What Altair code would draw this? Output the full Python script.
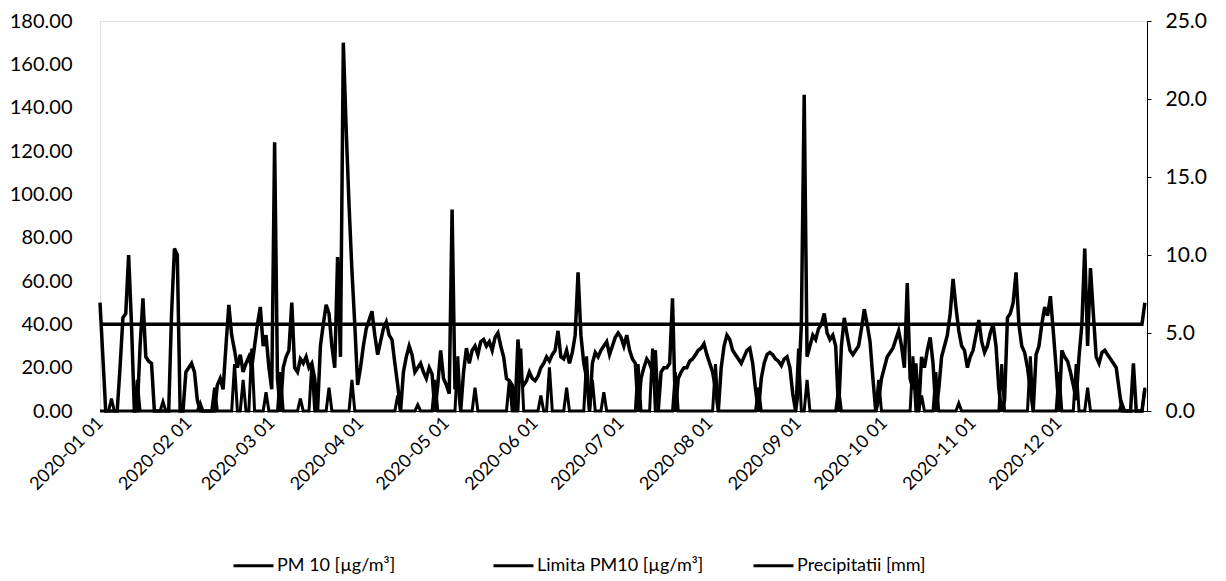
import altair as alt
import pandas as pd

# ---- data (daily values, 2020) ----
series_names = ["PM 10 [µg/m³]", "Limita PM10 [µg/m³]", "Precipitatii [mm]"]

pm10_jan = [50, 25, 0, 0, 0, 0, 0, 20, 43, 45, 72, 40, 0, 0, 30, 52, 25, 23, 22, 0, 0, 0, 0, 0, 0, 45, 75, 72, 0, 0, 18]
pm10_feb = [20, 22, 18, 5, 0, 0, 0, 0, 0, 0, 12, 15, 10, 30, 49, 35, 28, 20, 26, 18, 22, 25, 20, 30, 40, 48, 30, 35, 20]
pm10_mar = [10, 124, 15, 0, 20, 25, 28, 50, 20, 18, 24, 22, 25, 20, 22, 15, 0, 30, 40, 49, 45, 30, 20, 71, 25, 170, 130, 95, 65, 40, 12]
pm10_apr = [20, 30, 38, 42, 46, 35, 26, 32, 38, 41, 35, 33, 22, 12, 0, 18, 25, 30, 26, 18, 20, 22, 18, 15, 20, 17, 0, 12, 28, 15]
pm10_may = [12, 8, 93, 10, 14, 0, 18, 29, 22, 28, 30, 26, 32, 33, 30, 32, 28, 34, 36, 30, 25, 15, 14, 12, 0, 33, 15, 12, 14, 18, 15]
pm10_jun = [14, 16, 20, 22, 25, 23, 26, 28, 37, 25, 24, 28, 22, 27, 35, 64, 35, 22, 15, 0, 22, 27, 25, 28, 30, 32, 26, 30, 34, 36]
pm10_jul = [34, 30, 35, 28, 24, 22, 0, 15, 20, 24, 22, 18, 28, 0, 18, 20, 20, 22, 52, 0, 15, 18, 20, 20, 23, 24, 26, 28, 29, 31, 26]
pm10_aug = [22, 18, 10, 0, 20, 30, 35, 33, 28, 26, 24, 22, 25, 28, 29, 22, 10, 0, 15, 22, 26, 27, 26, 24, 23, 21, 24, 25, 20, 8, 0]
pm10_sep = [10, 40, 146, 25, 30, 35, 33, 38, 40, 45, 36, 33, 35, 30, 0, 30, 43, 35, 28, 26, 28, 30, 38, 47, 40, 32, 15, 0, 5, 15]
pm10_oct = [20, 25, 27, 29, 33, 37, 30, 20, 59, 15, 10, 22, 0, 25, 20, 28, 34, 22, 0, 10, 25, 30, 35, 45, 61, 48, 37, 30, 28, 20, 25]
pm10_nov = [28, 35, 42, 32, 27, 30, 36, 40, 30, 10, 0, 5, 43, 45, 50, 64, 40, 30, 27, 20, 10, 0, 26, 30, 40, 48, 44, 53, 37, 20]
pm10_dec = [0, 28, 25, 23, 18, 12, 5, 25, 40, 75, 30, 66, 45, 25, 22, 27, 28, 26, 24, 22, 20, 10, 0, 0, 0, 0, 22, 0, 0, 0, 10]

limit_pm10 = 40.0
limit_last_day = 50.0

# rainy days (day index from 2020-01-01) and amount in mm; other days 0
precip_day = [4, 13, 22, 35, 40, 47, 50, 53, 58, 63, 70, 74, 80, 88, 104, 111, 117, 125, 131, 143, 147,
              154, 157, 163, 170, 172, 176, 188, 193, 201, 215, 230, 244, 247, 258, 272, 284, 287, 292,
              300, 315, 325, 335, 341, 345, 357, 365]
precip_mm = [0.8, 2.0, 0.6, 0.5, 1.5, 3.0, 2.0, 4.0, 1.2, 2.5, 0.8, 3.0, 1.5, 2.0, 1.0, 0.4, 2.0, 3.5, 1.5, 2.0, 4.0,
             1.0, 2.8, 1.5, 3.5, 2.0, 1.2, 3.0, 4.0, 2.5, 3.0, 1.5, 4.0, 2.0, 1.5, 2.0, 3.5, 1.0, 2.5,
             0.5, 3.0, 3.5, 2.5, 3.0, 1.5, 0.5, 1.5]

left_ticks = [0, 20, 40, 60, 80, 100, 120, 140, 160, 180]
right_ticks = [0, 5, 10, 15, 20, 25]

# ---- tables ----
pm10 = (pm10_jan + pm10_feb + pm10_mar + pm10_apr + pm10_may + pm10_jun +
        pm10_jul + pm10_aug + pm10_sep + pm10_oct + pm10_nov + pm10_dec)
dates = pd.date_range("2020-01-01", "2020-12-31", freq="D")
n = len(dates)
date_str = [d.strftime("%Y-%m-%d") for d in dates]

limit = [limit_pm10] * n
limit[-1] = limit_last_day

precip = [0.0] * n
for d, v in zip(precip_day, precip_mm):
    precip[d] = v

left_df = pd.DataFrame({
    "date": date_str * 2,
    "value": pm10 + limit,
    "series": [series_names[0]] * n + [series_names[1]] * n,
})
right_df = pd.DataFrame({"date": date_str, "value": precip, "series": [series_names[2]] * n})

FONT = "Lato"

x_enc = alt.X(
    "date:T",
    title=None,
    scale=alt.Scale(
        type="utc",
        domain=[alt.DateTime(year=2020, month=1, date=1, utc=True),
                alt.DateTime(year=2020, month=12, date=31, hours=18, utc=True)],
    ),
    axis=alt.Axis(
        values=[alt.DateTime(year=2020, month=m, date=1, utc=True) for m in range(1, 13)],
        format="%Y-%m %d",
        labelAngle=-45,
        labelAlign="right",
        labelBaseline="middle",
        labelPadding=9,
        labelFont=FONT,
        labelFontSize=18,
        labelColor="black",
        domain=True,
        domainColor="black",
        domainWidth=1,
        ticks=False,
        grid=False,
        labelOverlap=False,
    ),
)

color_enc = alt.Color(
    "series:N",
    scale=alt.Scale(domain=series_names, range=["black", "black", "black"]),
    legend=alt.Legend(
        title=None,
        orient="none",
        legendX=132,
        legendY=523,
        direction="horizontal",
        symbolType="stroke",
        symbolSize=1600,
        symbolStrokeWidth=3,
        symbolStrokeColor="black",
        labelFont=FONT,
        labelFontSize=18,
        labelColor="black",
        labelOffset=2,
        labelLimit=400,
        gridAlign="all",
        columnPadding=43,
        padding=0,
    ),
)

left = alt.Chart(left_df).mark_line(strokeWidth=3.5, interpolate="linear").encode(
    x=x_enc,
    y=alt.Y(
        "value:Q",
        title=None,
        scale=alt.Scale(domain=[0, 180], nice=False, zero=True),
        axis=alt.Axis(
            values=left_ticks,
            format=".2f",
            orient="left",
            domain=False,
            ticks=False,
            grid=False,
            labelPadding=28,
            labelFont=FONT,
            labelFontSize=20,
            labelColor="black",
        ),
    ),
    color=color_enc,
    detail="series:N",
)

right = alt.Chart(right_df).mark_line(strokeWidth=3).encode(
    x=x_enc,
    y=alt.Y(
        "value:Q",
        title=None,
        scale=alt.Scale(domain=[0, 25], nice=False),
        axis=alt.Axis(
            values=right_ticks,
            format=".1f",
            orient="right",
            domain=True,
            domainColor="black",
            domainWidth=1,
            ticks=True,
            tickColor="black",
            tickSize=4,
            grid=False,
            labelPadding=14,
            labelFont=FONT,
            labelFontSize=21,
            labelColor="black",
        ),
    ),
    color=color_enc,
)

chart = alt.layer(right, left).resolve_scale(y="independent").properties(
    width=1047,
    height=390,
    autosize=alt.AutoSizeParams(type="none"),
    padding={"left": 92, "top": 13, "right": 70, "bottom": 166},
).configure_view(stroke=None).configure(background="white")

chart.save("out.html", embed_options={"renderer": "svg", "actions": False})
